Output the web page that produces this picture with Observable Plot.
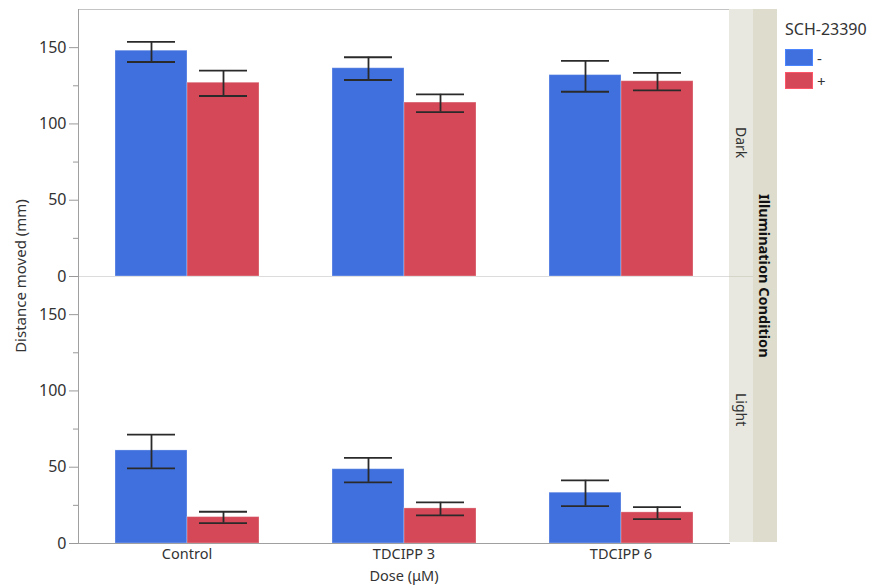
<!DOCTYPE html>
<html><head><meta charset="utf-8">
<script src="https://cdn.jsdelivr.net/npm/d3@7"></script>
<script src="https://cdn.jsdelivr.net/npm/@observablehq/plot@0.6"></script>
<style>
body{margin:0;background:#fff;font-family:"Noto Sans",sans-serif;color:#333;}
#wrap{position:relative;width:869px;height:585px;overflow:hidden;}
#wrap svg{position:absolute;left:0;top:0;}
.strip{position:absolute;box-sizing:border-box;display:flex;align-items:center;justify-content:center;}
.strip span{writing-mode:vertical-rl;white-space:nowrap;}
.inner{left:729px;width:24px;background:#e8e8e0;font-size:14px;color:#333;}
.outer{left:753px;width:24px;top:9px;height:533px;background:#dddccd;font-size:14.5px;font-weight:bold;color:#111;}
#ylab{position:absolute;left:20px;top:276px;transform:translate(-50%,-50%) rotate(-90deg);white-space:nowrap;font-size:15px;color:#333;}
#legend{position:absolute;left:785px;top:18px;font-size:16px;color:#333;}
#legend .item{display:flex;align-items:center;height:23px;font-size:15px;}
#legend .sw{width:28px;height:17px;box-sizing:border-box;margin-right:4px;}
</style></head><body><div id="wrap"></div><script>
// Categories
const doses = ["Control", "TDCIPP 3", "TDCIPP 6"];
const illums = ["Dark", "Light"];
const schLevels = ["-", "+"];

// Dark, SCH-23390 "-"
const darkMinusMean = [148, 136.5, 132];
const darkMinusLo   = [140.6, 128.8, 121.1];
const darkMinusHi   = [153.8, 143.7, 141.3];
// Dark, SCH-23390 "+"
const darkPlusMean = [127, 114, 128];
const darkPlusLo   = [118.3, 107.8, 122];
const darkPlusHi   = [134.9, 119.4, 133.4];
// Light, SCH-23390 "-"
const lightMinusMean = [61, 48.7, 33.3];
const lightMinusLo   = [49.3, 40.1, 24.5];
const lightMinusHi   = [71.4, 56.1, 41.4];
// Light, SCH-23390 "+"
const lightPlusMean = [17.3, 23, 20.4];
const lightPlusLo   = [13.4, 18.4, 16];
const lightPlusHi   = [20.8, 27, 23.9];

const yTicks = [0, 50, 100, 150];
const yMinorTicks = [25, 75, 125];

const series = [
  ["Dark", "-", darkMinusMean, darkMinusLo, darkMinusHi],
  ["Dark", "+", darkPlusMean, darkPlusLo, darkPlusHi],
  ["Light", "-", lightMinusMean, lightMinusLo, lightMinusHi],
  ["Light", "+", lightPlusMean, lightPlusLo, lightPlusHi]
];
const rows = [];
for (const [illum, sch, m, lo, hi] of series) {
  doses.forEach((d, i) => rows.push({illum, sch, dose: d, mean: m[i], lo: lo[i], hi: hi[i]}));
}

const ebar = {fx: "dose", fy: "illum", x: "sch", stroke: "#2a2a2a", strokeWidth: 1.8};

const chart = Plot.plot({
  width: 869, height: 585,
  marginLeft: 78, marginRight: 140, marginTop: 9, marginBottom: 42,
  style: {fontFamily: "Noto Sans", fontSize: "15px", color: "#333", background: "transparent"},
  fx: {domain: doses, padding: 0, label: null},
  fy: {domain: illums, padding: 0, label: null, axis: null},
  x: {domain: schLevels, paddingInner: 0, paddingOuter: 0.5, axis: null},
  y: {domain: [0, 175], axis: null},
  color: {domain: schLevels, range: ["#4070de", "#d44858"]},
  marks: [
    Plot.ruleY([0], {stroke: "#dcdcdc", facetAnchor: "top"}),
    Plot.barY(rows, {fx: "dose", fy: "illum", x: "sch", y: "mean", fill: "sch", stroke: "white", strokeOpacity: 0.3, strokeWidth: 1}),
    Plot.ruleX(rows, {...ebar, y1: "lo", y2: "hi"}),
    Plot.tickY(rows, {...ebar, y: "lo", insetLeft: 12, insetRight: 12}),
    Plot.tickY(rows, {...ebar, y: "hi", insetLeft: 12, insetRight: 12}),
    Plot.frame({anchor: "top", facetAnchor: "top", stroke: "#c4c4c4"}),
    Plot.frame({anchor: "left", facetAnchor: "left", stroke: "#a0a0a0"}),
    Plot.frame({anchor: "bottom", facetAnchor: "bottom", stroke: "#a0a0a0"}),
    Plot.axisY({ticks: yTicks, tickSize: 9, tickPadding: 3, fontSize: 16, label: null, stroke: "#999", color: "#333"}),
    Plot.axisY({ticks: yMinorTicks, tickSize: 5, tickFormat: () => "", label: null, stroke: "#999"}),
    Plot.axisFx({anchor: "bottom", tickSize: 0, tickPadding: 5, label: "Dose (μM)", labelAnchor: "center", labelOffset: 37, fontSize: 14.5})
  ]
});

const wrap = document.getElementById("wrap");
wrap.appendChild(chart);

// Facet strips
const fyTop = {Dark: 9, Light: 276};
const fyH = {Dark: 267, Light: 266};
illums.forEach((v, i) => {
  const d = document.createElement("div");
  d.className = "strip inner";
  d.style.top = fyTop[v] + "px";
  d.style.height = fyH[v] + "px";
  if (i > 0) d.style.borderTop = "1px solid #d4d4c8";
  d.innerHTML = "<span>" + v + "</span>";
  wrap.appendChild(d);
});
const outer = document.createElement("div");
outer.className = "strip outer";
outer.innerHTML = "<span>Illumination Condition</span>";
wrap.appendChild(outer);

// y label
const yl = document.createElement("div");
yl.id = "ylab";
yl.textContent = "Distance moved (mm)";
wrap.appendChild(yl);

// legend
const color = chart.scale("color");
const lg = document.createElement("div");
lg.id = "legend";
let html = "<div style='margin-bottom:6px'>SCH-23390</div>";
for (const v of color.domain) {
  const c = color.apply(v);
  html += `<div class="item"><div class="sw" style="background:${c};border:1px solid ${d3.color(c).brighter(0.5)}"></div><span>${v}</span></div>`;
}
lg.innerHTML = html;
wrap.appendChild(lg);
</script></body></html>
